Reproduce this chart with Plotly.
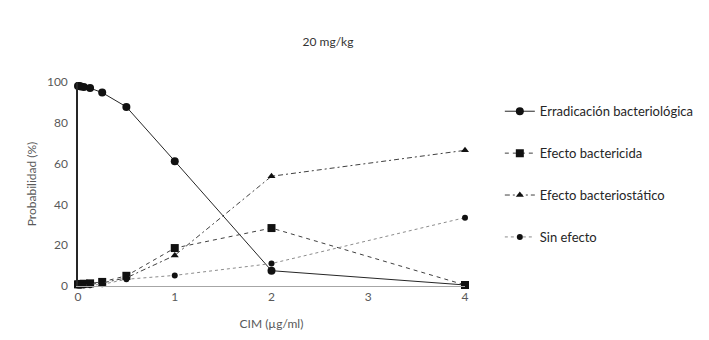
import plotly.graph_objects as go

cim = [0, 0.015, 0.03, 0.06, 0.125, 0.25, 0.5, 1, 2, 4]
erradicacion = [98, 98, 97.8, 97.5, 97, 94.8, 87.8, 61.2, 7.5, 0.5]
bactericida = [0.8, 0.9, 1.0, 1.1, 1.3, 2.0, 5.0, 18.6, 28.4, 0.5]
bacteriostatico = [0.3, 0.4, 0.5, 0.6, 0.8, 1.5, 4.0, 15.0, 53.8, 66.5]
sin_efecto = [0.2, 0.2, 0.3, 0.3, 0.4, 0.8, 3.3, 5.2, 11.0, 33.5]

title_text = "20 mg/kg"
x_title = "CIM (µg/ml)"
y_title = "Probabilidad (%)"
names = ["Erradicación bacteriológica", "Efecto bactericida",
         "Efecto bacteriostático", "Sin efecto"]

FONT = "Lato, Open Sans, sans-serif"
TXT = "#404040"

fig = go.Figure()
specs = [
    (erradicacion, "circle", 8, dict(color="#262626", width=1, dash="solid")),
    (bactericida, "square", 8, dict(color="#404040", width=1, dash="4px,4px")),
    (bacteriostatico, "triangle-up", 7, dict(color="#404040", width=1, dash="5px,3px,2px,3px")),
    (sin_efecto, "circle", 6, dict(color="#8c8c8c", width=1, dash="dot")),
]
for i, (vals, sym, sz, line) in enumerate(specs):
    fig.add_trace(go.Scatter(
        x=cim, y=vals, name=names[i], mode="lines+markers",
        line=line, marker=dict(symbol=sym, size=sz, color="#111111"),
        cliponaxis=False, legendgroup=f"g{i}",
    ))

fig.update_layout(
    width=709, height=340,
    margin=dict(l=70, r=252, t=74, b=62),
    paper_bgcolor="white", plot_bgcolor="white",
    font=dict(family=FONT, size=12, color=TXT),
    title=dict(text=title_text, x=(320) / 709, xanchor="center", y=1 - 34 / 340,
               yanchor="middle", font=dict(size=12, color="#333333")),
    showlegend=True,
    legend=dict(x=1.09, xanchor="left", y=0.93, yanchor="top",
                tracegroupgap=22, font=dict(size=13, color="#262626"),
                bgcolor="rgba(0,0,0,0)", itemwidth=30),
    xaxis=dict(range=[0, 4], tickvals=[0, 1, 2, 3, 4], showgrid=False, zeroline=False,
               showline=True, linecolor="#a6a6a6", linewidth=1, ticks="",
               tickfont=dict(size=12, color="#595959"),
               title=dict(text=x_title, font=dict(size=12, color="#595959"), standoff=16)),
    yaxis=dict(range=[0, 100], tickvals=[0, 20, 40, 60, 80, 100], showgrid=False,
               zeroline=False, showline=True, linecolor="#262626", linewidth=1.5,
               ticks="", tickfont=dict(size=12, color="#595959"), ticklabelstandoff=6,
               title=dict(text=y_title, font=dict(size=12, color="#595959"), standoff=8)),
)

fig.write_html("out.html")
